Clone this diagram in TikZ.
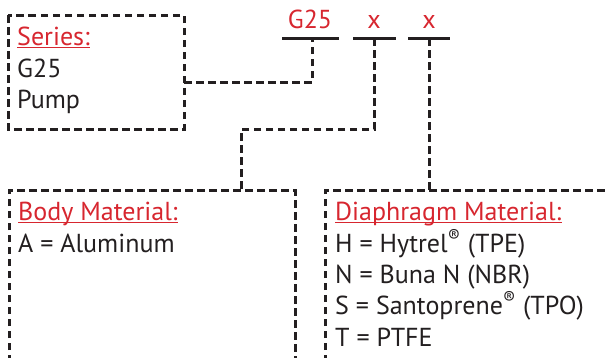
\documentclass[tikz,border=0pt]{standalone}
\usepackage{fontspec}
\setmainfont{PT Sans}
\definecolor{codered}{HTML}{D7262F}
\definecolor{ink}{HTML}{231F20}
\tikzset{
    frame/.style={draw=ink, line width=3pt, dash pattern=on 7.5pt off 4.5pt},
    bar/.style={draw=ink, line width=3pt},
    head/.style={text=codered, anchor=base west, inner sep=0pt, font=\fontsize{26}{30}\selectfont},
    item/.style={text=ink, anchor=base west, inner sep=0pt, font=\fontsize{26}{30}\selectfont},
    code/.style={text=codered, anchor=base, inner sep=0pt, font=\fontsize{26}{30}\selectfont},
    headline/.style={draw=codered, line width=1.4pt}
}
\begin{document}
\begin{tikzpicture}[line join=miter, x=1pt, y=-1pt]
    \useasboundingbox (0, 0) rectangle (605, 357);
    \clip (0, 0) rectangle (605, 357);

    % Model code
    \node[code] (cseries) at (310, 28) {G25};
    \node[code] (cbody) at (374, 28) {x};
    \node[code] (cdia) at (429, 28) {x};
    \coordinate (tseries) at (312, 38);
    \coordinate (tbody) at (374, 38);
    \coordinate (tdia) at (429, 38);
    \draw[bar] ([xshift=-30pt]tseries) -- ([xshift=27pt]tseries);
    \draw[bar] ([xshift=-21pt]tbody) -- ([xshift=22pt]tbody);
    \draw[bar] ([xshift=-21pt]tdia) -- ([xshift=21pt]tdia);

    % Series box
    \draw[frame] (8, 15) rectangle (184, 129);
    \node[head] (series) at (17, 45) {Series:};
    \draw[headline] ([yshift=-2.2pt]series.base west) -- ([yshift=-2.2pt]series.base east);
    \node[item] (g25) at (17, 77) {G25};
    \node[item] (pump) at (17, 108) {Pump};
    \coordinate (sout) at (184, 82);
    \draw[frame] (sout) -| (tseries);

    % Body box
    \coordinate (bnw) at (9, 190);
    \coordinate (bne) at (295, 190);
    \draw[frame] (9, 362) -- (bnw) -- (bne) -- (295, 362);
    \node[head] (body) at (18, 220) {Body Material:};
    \draw[headline] ([yshift=-2.2pt]body.base west) -- ([yshift=-2.2pt]body.base east);
    \node[item] (alu) at (18, 252) {A = Aluminum};
    \coordinate (bjog) at (241, 129);
    \coordinate (bin) at (241, 190);
    \draw[frame] (tbody) |- (bjog) -- (bin);

    % Diaphragm box
    \coordinate (dnw) at (325, 190);
    \draw[frame] (325, 362) -- (dnw) -- (610, 190);
    \node[head] (dia) at (335, 220) {Diaphragm Material:};
    \draw[headline] ([yshift=-2.2pt]dia.base west) -- ([yshift=-2.2pt]dia.base east);
    \node[item] (hyt) at (335, 252) {H = Hytrel\textsuperscript{®} (TPE)};
    \node[item] (nbr) at (335, 283) {N = Buna N (NBR)};
    \node[item] (tpo) at (335, 314) {S = Santoprene\textsuperscript{®} (TPO)};
    \node[item] (ptfe) at (335, 346) {T = PTFE};
    \draw[frame] (tdia) -- (tdia |- dnw);
\end{tikzpicture}
\end{document}
